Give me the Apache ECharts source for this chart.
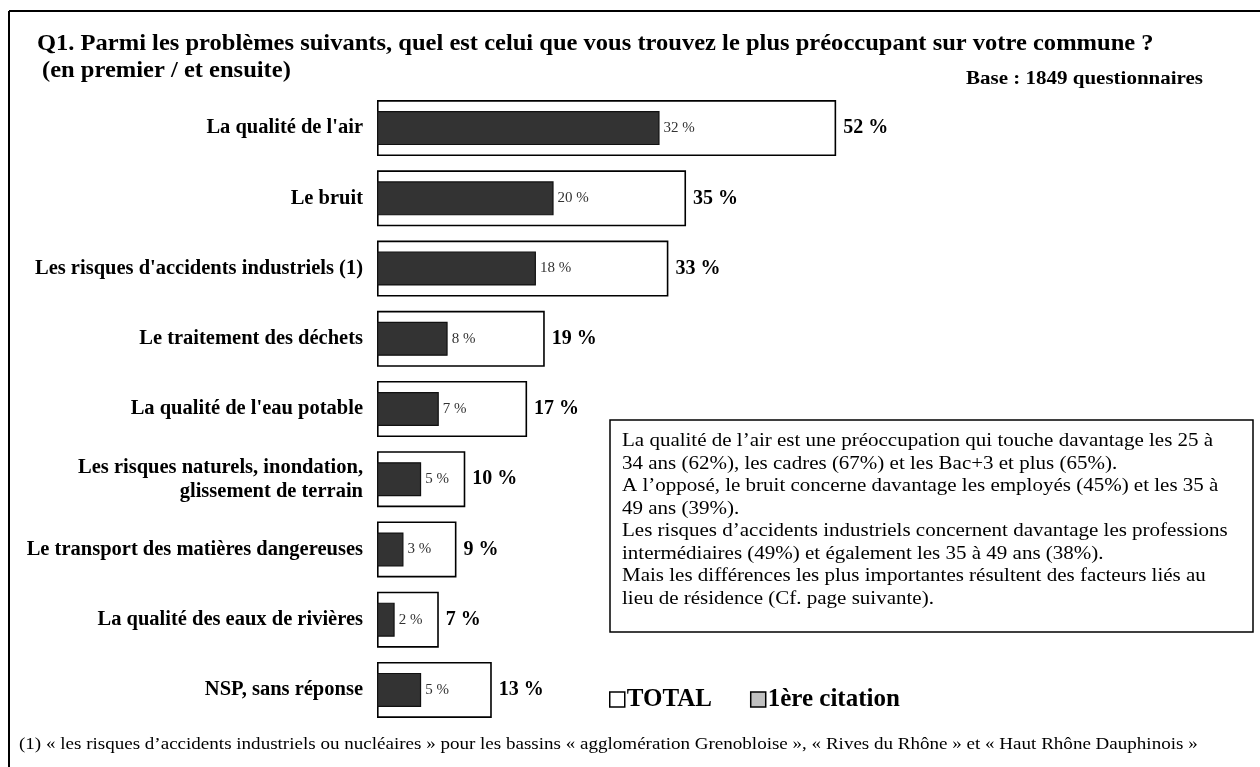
<!DOCTYPE html>
<html lang="fr">
<head>
    <meta charset="UTF-8" />
    <title>Q1 - problèmes préoccupants</title>
    <script src="https://cdn.jsdelivr.net/npm/echarts@6/dist/echarts.min.js"></script>
    <style>
        html, body { margin: 0; padding: 0; background: #fff; }
    </style>
</head>
<body>
<div id="main" style="width: 1260px;height:767px;"></div>
<script type="text/javascript">
    // données
    var categories = [
        "La qualité de l'air",
        "Le bruit",
        "Les risques d'accidents industriels (1)",
        "Le traitement des déchets",
        "La qualité de l'eau potable",
        "Les risques naturels, inondation,\nglissement de terrain",
        "Le transport des matières dangereuses",
        "La qualité des eaux de rivières",
        "NSP, sans réponse"
    ];
    var totalValues = [52, 35, 33, 19, 17, 10, 9, 7, 13];
    var firstValues = [32, 20, 18, 8, 7, 5, 3, 2, 5];

    var serif = "'Liberation Serif', 'Times New Roman', serif";

    var noteLines = [
        "La qualité de l\u2019air est une préoccupation qui touche davantage les 25 à",
        "34 ans (62%), les cadres (67%) et les Bac+3 et plus (65%).",
        "A l\u2019opposé, le bruit concerne davantage les employés (45%) et les 35 à",
        "49 ans (39%).",
        "Les risques d\u2019accidents industriels concernent davantage les professions",
        "intermédiaires (49%) et également les 35 à 49 ans (38%).",
        "Mais les différences les plus importantes résultent des facteurs liés au",
        "lieu de résidence (Cf. page suivante)."
    ];

    var myChart = echarts.init(document.getElementById('main'));

    // texte un peu étiré en largeur, comme sur l'original
    function wideText(x, y, txt, font, sx, extra) {
        var el = {
            type: 'text', x: x, y: y, scaleX: sx, scaleY: 1, originX: 0, originY: 0,
            style: { text: txt, font: font, fill: '#000', align: 'left', verticalAlign: 'top' }
        };
        if (extra) {
            for (var k in extra) el.style[k] = extra[k];
        }
        return el;
    }

    var option = {
        backgroundColor: '#fff',
        textStyle: { fontFamily: serif },
        animation: false,
        grid: {
            left: 377,
            top: 93,
            width: 890,
            height: 632
        },
        xAxis: {
            type: 'value',
            min: 0,
            max: 100,
            show: false
        },
        yAxis: [
            {
                type: 'category',
                data: categories,
                inverse: true,
                axisLine: { show: false },
                axisTick: { show: false },
                axisLabel: {
                    margin: 14,
                    color: '#000',
                    fontFamily: serif,
                    fontWeight: 'bold',
                    fontSize: 20.5,
                    lineHeight: 24,
                    align: 'right'
                }
            },
            {
                type: 'category',
                data: categories,
                inverse: true,
                show: false
            }
        ],
        legend: {
            left: 604,
            top: 682,
            itemWidth: 15,
            itemHeight: 15,
            itemGap: 38,
            icon: 'rect',
            textStyle: {
                fontFamily: serif,
                fontWeight: 'bold',
                fontSize: 25,
                color: '#000',
                padding: [0, 0, 0, -3]
            },
            data: [
                { name: 'TOTAL', itemStyle: { color: '#fff', borderColor: '#000', borderWidth: 1.5 } },
                { name: '1ère citation', itemStyle: { color: '#c0c0c0', borderColor: '#000', borderWidth: 1.5 } }
            ]
        },
        series: [
            {
                name: 'TOTAL',
                type: 'bar',
                yAxisIndex: 0,
                barWidth: 56,
                data: totalValues,
                itemStyle: {
                    color: '#fff',
                    borderColor: '#000',
                    borderWidth: 1.6
                },
                label: {
                    show: true,
                    position: 'right',
                    distance: 7,
                    formatter: '{c} %',
                    fontFamily: serif,
                    fontWeight: 'bold',
                    fontSize: 20,
                    color: '#000'
                },
                z: 2
            },
            {
                name: '1ère citation',
                type: 'bar',
                yAxisIndex: 1,
                barWidth: 34,
                data: firstValues,
                itemStyle: {
                    color: '#333333',
                    borderColor: '#111',
                    borderWidth: 1.2
                },
                label: {
                    show: true,
                    position: 'right',
                    distance: 4,
                    formatter: '{c} %',
                    fontFamily: serif,
                    fontSize: 15,
                    color: '#333'
                },
                z: 3
            }
        ],
        graphic: [
            // cadre
            { type: 'line', shape: { x1: 9, y1: 11, x2: 1260, y2: 11 }, style: { stroke: '#000', lineWidth: 2 } },
            { type: 'line', shape: { x1: 9, y1: 11, x2: 9, y2: 767 }, style: { stroke: '#000', lineWidth: 2 } },
            wideText(37, 33, 'Q1. Parmi les problèmes suivants, quel est celui que vous trouvez le plus préoccupant sur votre commune ?',
                'bold 22.5px ' + serif, 1.09),
            wideText(42, 60, '(en premier / et ensuite)', 'bold 22.5px ' + serif, 1.09),
            wideText(966, 70, 'Base : 1849 questionnaires', 'bold 19px ' + serif, 1.105),
            // encadré de commentaire
            {
                type: 'rect', shape: { x: 610, y: 420, width: 643, height: 212 },
                style: { fill: '#fff', stroke: '#000', lineWidth: 1.5 }, z: 10
            },
            (function () {
                var t = wideText(622, 430, noteLines.join('\n'), '19px ' + serif, 1.105, { lineHeight: 22.5 });
                t.z = 11;
                return t;
            })(),
            wideText(19, 736, '(1) \u00ab les risques d\u2019accidents industriels ou nucléaires \u00bb pour les bassins \u00ab agglomération Grenobloise \u00bb, \u00ab Rives du Rhône \u00bb et \u00ab Haut Rhône Dauphinois \u00bb',
                '17px ' + serif, 1.12)
        ]
    };
    myChart.setOption(option);
</script>
</body>
</html>
